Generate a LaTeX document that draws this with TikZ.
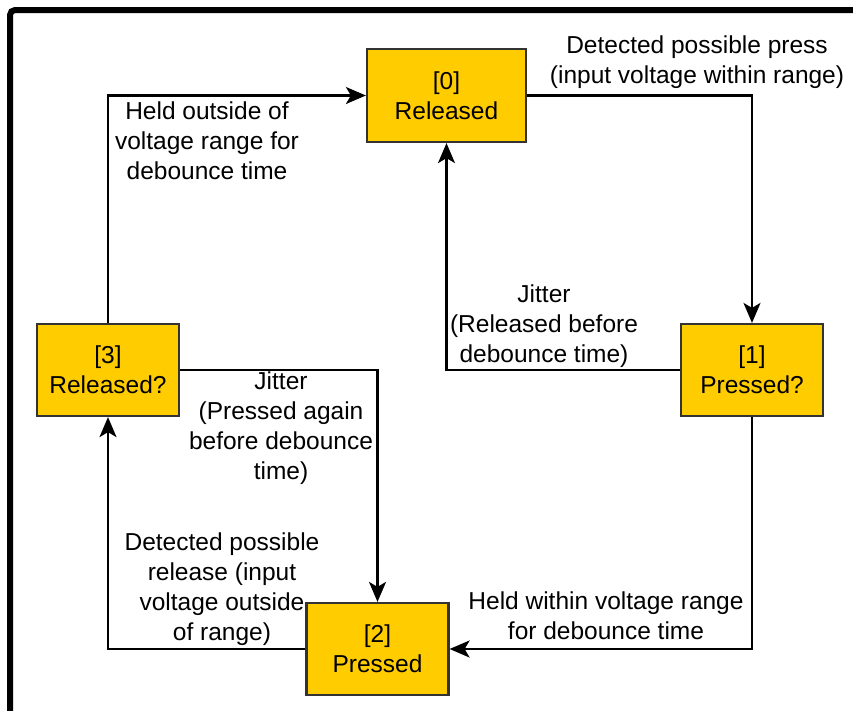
\documentclass[tikz,border=0pt]{standalone}
\usepackage{fontspec}
\setmainfont{Liberation Sans}
\usetikzlibrary{arrows.meta}
\definecolor{stategold}{HTML}{FFCC00}
\definecolor{stateedge}{HTML}{333333}
\tikzset{
  x=1pt, y=-1pt,
  statebox/.style={draw=stateedge, line width=2.2pt, fill=stategold,
    minimum width=142pt, minimum height=92pt, align=center, inner sep=0pt,
    font=\fontsize{24.5}{30}\selectfont},
  conn/.style={draw=black, line width=2.2pt,
    -{Stealth[length=20pt,width=17pt,inset=5pt]}},
  lbl/.style={align=center, inner sep=0pt, font=\fontsize{24.5}{30}\selectfont}
}
\begin{document}
\begin{tikzpicture}
\useasboundingbox (0,0) rectangle (853,710);
\fill[white] (0,0) rectangle (853,710);

% outer frame: only its top and left sides fall on the page
\begin{scope}
  \clip (0,0) rectangle (853,710);
  \draw[line width=6pt, rounded corners=5pt] (10,740) -- (10,10) -- (880,10);
\end{scope}

% states
\node[statebox, minimum width=159pt, minimum height=93pt] (s0) at (446.5,95.5) {[0]\\Released};
\node[statebox] (s1) at (752,370) {[1]\\Pressed?};
\node[statebox] (s2) at (377.5,649) {[2]\\Pressed};
\node[statebox] (s3) at (108,370) {[3]\\Released?};

% transitions
\draw[conn] (s0.east) -| (s1.north);
\draw[conn] (s1.west) -| (s0.south);
\draw[conn] (s1.south) |- (s2.east);
\draw[conn] (s2.west) -| (s3.south);
\draw[conn] (s3.east) -| (s2.north);
\draw[conn] (s3.north) |- (s0.west);

% transition labels
\node[lbl] (t01) at (697,62) {Detected possible press\\(input voltage within range)};
\node[lbl] (t30) at (207,141) {Held outside of\\voltage range for\\debounce time};
\node[lbl] (t10) at (544,326) {Jitter\\(Released before\\debounce time)};
\node[lbl] (t32) at (281,428.5) {Jitter\\(Pressed again\\before debounce\\time)};
\node[lbl] (t23) at (222,589) {Detected possible\\release (input\\voltage outside\\of range)};
\node[lbl] (t12) at (606,616) {Held within voltage range\\for debounce time};
\end{tikzpicture}
\end{document}
